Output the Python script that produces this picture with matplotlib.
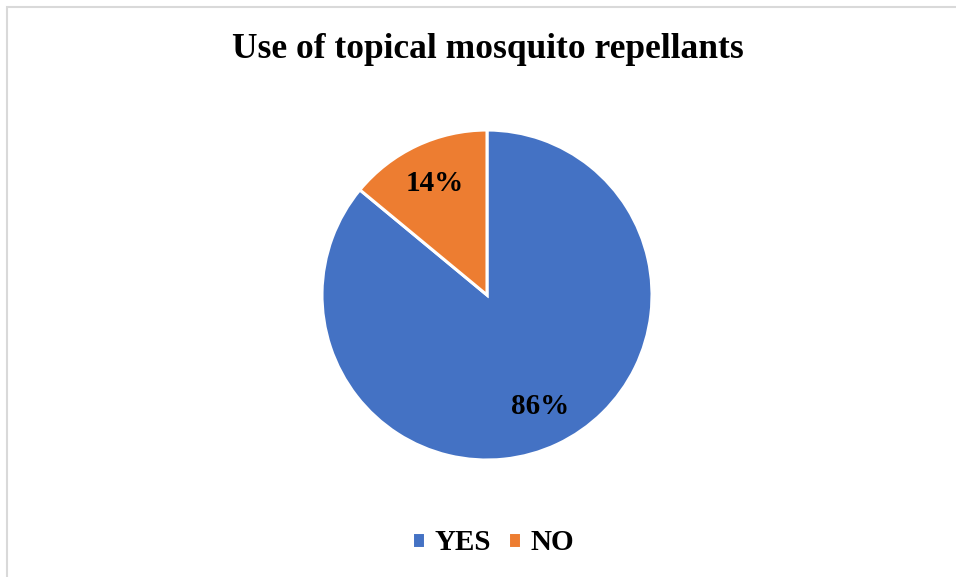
import matplotlib.pyplot as plt
from matplotlib.patches import Rectangle

labels = ["YES", "NO"]
shares = [86, 14]
colors = ["#4472C4", "#ED7D31"]

plt.rcParams['font.family'] = ['Liberation Serif', 'DejaVu Serif']

fig = plt.figure(figsize=(9.56, 5.77), dpi=100)

# thin grey frame around the chart area
fig.patches.append(Rectangle((7 / 956, -0.01), 1.0, 1 - 7 / 577 + 0.01,
                             transform=fig.transFigure, fill=False,
                             edgecolor="#D9D9D9", linewidth=1.5))

ax = fig.add_axes([487 / 956 - 0.1726, 0.4887 - 0.286, 0.3452, 0.572])
wedges, _, autotexts = ax.pie(
    shares, colors=colors, startangle=90, counterclock=False,
    autopct="%d%%", pctdistance=0.75,
    wedgeprops=dict(edgecolor="white", linewidth=2.2),
    textprops=dict(fontsize=21, fontweight="bold", color="black"))
ax.set_xlim(-1, 1)
ax.set_ylim(-1, 1)
ax.set_aspect("equal")

fig.text(487.5 / 956, 1 - 50 / 577, "Use of topical mosquito repellants",
         ha="center", va="center", fontsize=25.5, fontweight="bold")

fig.legend(wedges, labels, loc="center", bbox_to_anchor=(493 / 956, 1 - 543 / 577),
           ncol=2, frameon=False, handlelength=0.45, handleheight=0.45,
           handletextpad=0.3, columnspacing=0.6,
           prop=dict(size=21, weight="bold"))

fig.savefig("out.png", dpi=100)
